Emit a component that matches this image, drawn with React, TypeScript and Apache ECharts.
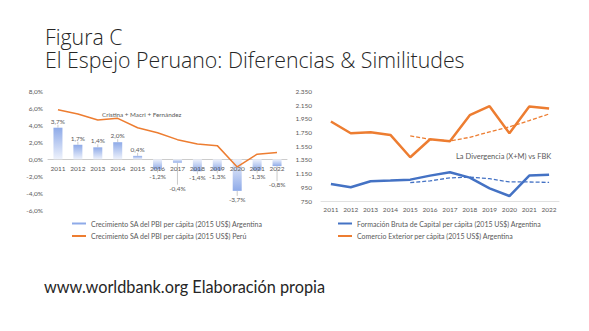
import React, { useEffect, useRef } from "react";
import * as echarts from "echarts";

const years = ["2011", "2012", "2013", "2014", "2015", "2016", "2017", "2018", "2019", "2020", "2021", "2022"];
const argGrowth = [3.7, 1.7, 1.4, 2.0, 0.4, -1.2, -0.4, -1.4, -1.3, -3.7, -1.3, -0.8];
const peruGrowth = [5.8, 5.3, 4.6, 4.8, 3.7, 3.1, 2.3, 1.8, 1.6, -0.9, 0.6, 0.8];
const fbk = [999, 950, 1038, 1048, 1062, 1121, 1170, 1091, 935, 823, 1121, 1135];
const trade = [1911, 1740, 1755, 1716, 1389, 1652, 1623, 2004, 2135, 1740, 2130, 2101];
const fbkTrend = [null, null, null, null, 1019, 1044, 1088, 1098, 1076, 1028, 1028, 1021];
const tradeTrend = [null, null, null, null, 1702, 1650, 1627, 1680, 1760, 1832, 1926, 2022];

const nameArg = "Crecimiento SA del PBI per cápita (2015 US$) Argentina";
const namePeru = "Crecimiento SA del PBI per cápita (2015 US$) Perú";
const nameFbk = "Formación Bruta de Capital per cápita (2015 US$) Argentina";
const nameTrade = "Comercio Exterior per cápita (2015 US$) Argentina";

const FONT = "Lato";
const TITLE_FONT = "Open Sans";
const GRAY = "#595959";

const pct = (v: number) => v.toFixed(1).replace(".", ",") + "%";
const thousands = (v: number) =>
  v >= 1000 ? Math.floor(v / 1000) + "." + String(v % 1000).padStart(3, "0") : String(v);

export default function App() {
  const ref = useRef<HTMLDivElement>(null);
  useEffect(() => {
    document.body.style.margin = "0";
    const chart = echarts.init(ref.current!, null, { renderer: "svg" });
    const blueStrong = "#8eaae8";
    const blueLight = "#eef2fc";
    const barData = argGrowth.map((v) => ({
      value: v,
      itemStyle: {
        color: new echarts.graphic.LinearGradient(0, 0, 0, 1, v >= 0
          ? [{ offset: 0, color: blueStrong }, { offset: 1, color: blueLight }]
          : [{ offset: 0, color: blueLight }, { offset: 1, color: blueStrong }]),
      },
      label: { position: v >= 0 ? "top" : "bottom" },
    }));
    const axisLabelStyle = { color: GRAY, fontSize: 6.5, fontFamily: FONT };
    chart.setOption({
      animation: false,
      backgroundColor: "#ffffff",
      textStyle: { fontFamily: FONT },
      grid: [
        { left: 48, width: 239, top: 91, height: 119.5 },
        { left: 321, width: 238, top: 91.5, height: 109.5 },
        { left: 48, width: 239, top: 91, height: 68.3 },
      ],
      xAxis: [
        {
          type: "category", data: years, gridIndex: 0,
          axisLine: { onZero: true, lineStyle: { color: "#bfbfbf", width: 0.8 } },
          axisTick: { show: false },
          axisLabel: { show: false },
        },
        {
          type: "category", data: years, gridIndex: 1,
          axisLine: { lineStyle: { color: "#d9d9d9", width: 0.8 } },
          axisTick: { show: false },
          axisLabel: { ...axisLabelStyle, margin: 5 },
        },
        {
          type: "category", data: years, gridIndex: 2, z: 5,
          axisLine: { show: false },
          axisTick: { show: false },
          axisLabel: { ...axisLabelStyle, margin: 6 },
        },
      ],
      yAxis: [
        {
          type: "value", gridIndex: 0, min: -6, max: 8, interval: 2,
          splitLine: { show: false }, axisLine: { show: false }, axisTick: { show: false },
          axisLabel: { ...axisLabelStyle, margin: 5, formatter: pct },
        },
        {
          type: "value", gridIndex: 1, min: 750, max: 2350, interval: 200,
          splitLine: { show: false }, axisLine: { show: false }, axisTick: { show: false },
          axisLabel: { ...axisLabelStyle, margin: 9, formatter: thousands },
        },
        {
          type: "value", gridIndex: 2, show: false,
        },
      ],
      legend: [
        {
          data: [nameArg, namePeru], orient: "vertical", left: 72, top: 220, padding: 0,
          icon: "rect", itemWidth: 14, itemHeight: 2, itemGap: 5.5,
          textStyle: { color: GRAY, fontSize: 7, fontFamily: FONT },
        },
        {
          data: [nameFbk, nameTrade], orient: "vertical", left: 338, top: 220, padding: 0,
          icon: "rect", itemWidth: 14, itemHeight: 2, itemGap: 5.5,
          textStyle: { color: GRAY, fontSize: 7, fontFamily: FONT },
        },
      ],
      series: [
        {
          name: nameArg, type: "bar", xAxisIndex: 0, yAxisIndex: 0, barWidth: 9,
          data: barData, itemStyle: { color: blueStrong },
          label: {
            show: true, distance: 3, color: GRAY, fontSize: 6.5, fontFamily: FONT,
            formatter: (p: any) => pct(p.value),
          },
          labelLayout: (p: any) =>
            p.dataIndex === 6 ? { dy: 19 } : p.dataIndex === 11 ? { dy: 12 } : p.dataIndex === 9 ? { dy: 2 } : {},
          labelLine: { show: true, lineStyle: { color: "#a6a6a6", width: 0.6 } },
        },
        {
          name: namePeru, type: "line", xAxisIndex: 0, yAxisIndex: 0, data: peruGrowth,
          symbol: "none", lineStyle: { color: "#ed7d31", width: 1.5 }, itemStyle: { color: "#ed7d31" },
        },
        {
          name: nameFbk, type: "line", xAxisIndex: 1, yAxisIndex: 1, data: fbk,
          symbol: "none", lineStyle: { color: "#4472c4", width: 2.5 }, itemStyle: { color: "#4472c4" },
        },
        {
          name: nameTrade, type: "line", xAxisIndex: 1, yAxisIndex: 1, data: trade,
          symbol: "none", lineStyle: { color: "#ed7d31", width: 2.5 }, itemStyle: { color: "#ed7d31" },
        },
        {
          name: "fbkTrend", type: "line", xAxisIndex: 1, yAxisIndex: 1, data: fbkTrend,
          symbol: "none", lineStyle: { color: "#4472c4", width: 1.3, type: [4, 2] },
        },
        {
          name: "tradeTrend", type: "line", xAxisIndex: 1, yAxisIndex: 1, data: tradeTrend,
          symbol: "none", lineStyle: { color: "#ed7d31", width: 1.3, type: [4, 2] },
        },
      ],
      graphic: [
        {
          type: "text", left: 45, top: 25,
          style: {
            text: "Figura C\nEl Espejo Peruano: Diferencias & Similitudes",
            fontSize: 21.3, lineHeight: 22.8, fontFamily: TITLE_FONT, fontWeight: 300, fill: "#262626",
          },
        },
        {
          type: "text", left: 102, top: 111,
          style: { text: "Cristina + Macri + Fernández", fontSize: 6.3, fontFamily: FONT, fill: GRAY },
        },
        {
          type: "text", left: 456, top: 152,
          style: { text: "La Divergencia (X+M) vs FBK", fontSize: 7.5, fontFamily: FONT, fill: GRAY },
        },
        {
          type: "text", left: 44, top: 278,
          style: { text: "www.worldbank.org Elaboración propia", fontSize: 16.3, fontFamily: FONT, fill: "#262626" },
        },
      ],
    });
    return () => chart.dispose();
  }, []);
  return <div ref={ref} style={{ width: 589, height: 331 }} />;
}
